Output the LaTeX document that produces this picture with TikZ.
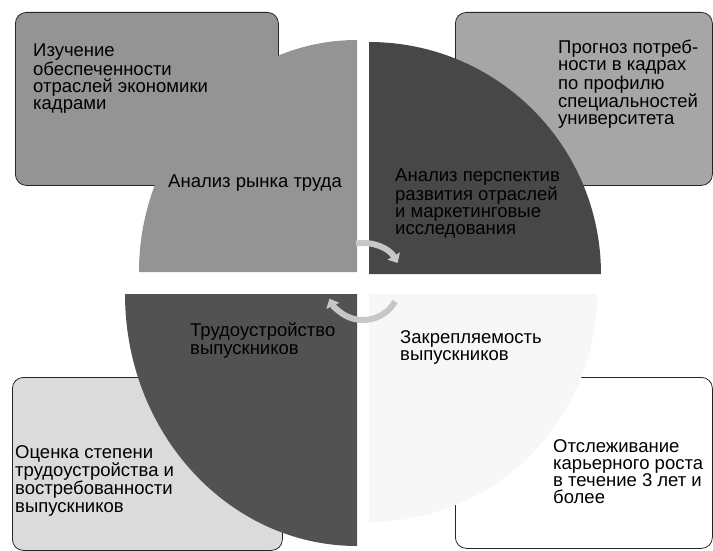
\documentclass[tikz,border=0pt]{standalone}
\usepackage{fontspec}
\setmainfont{Liberation Sans}
\usetikzlibrary{arrows.meta}
\tikzset{box/.style={draw=black!85, thick, rounded corners=11pt, anchor=north west},
	txt/.style={align=left, inner sep=0pt, anchor=north west, font=\fontsize{18.5}{17.2}\selectfont}
}
\definecolor{qgrey}{gray}{0.58}
\definecolor{qdark}{gray}{0.28}
\definecolor{qdarker}{gray}{0.32}
\tikzstyle{cycle_arrow} = [line width=6pt, draw=black!22, -{Triangle[length=8pt, width=14pt]}]

\begin{document}
\begin{tikzpicture}[x=1pt, y=1pt]
				\useasboundingbox (0,0) rectangle (713,-551);
				% corner boxes
				\node[box, fill=black!42, minimum width=263pt, minimum height=173pt](b1) at (15,-12) {};
				\node[box, fill=black!35, minimum width=257pt, minimum height=173pt](b2) at (455,-12) {};
				\node[box, fill=black!14, minimum width=270pt, minimum height=173pt](b3) at (12,-377) {};
				\node[box, fill=white, minimum width=257pt, minimum height=171pt](b4) at (455,-377) {};
				
				% draw quadrants
				\fill[qgrey] (357,-272) -- ++(-218,0) arc[start angle=180, end angle=90, x radius=218, y radius=232] -- cycle;
				\fill[qdark] (369,-274) -- ++(0,232) arc[start angle=90, end angle=0, radius=232] -- cycle;
				\fill[black!3] (369,-294) -- ++(228,0) arc[start angle=0, end angle=-90, radius=228] -- cycle;
				\fill[qdarker] (357,-294) -- ++(0,-252) arc[start angle=270, end angle=180, x radius=232, y radius=252] -- cycle;
				
				% texts
				\node[txt] (t1) at ([shift={(18,-32)}]b1.north west) {Изучение\\обеспеченности\\отраслей экономики\\кадрами};
				\node[txt] (t2) at ([shift={(103,-28)}]b2.north west) {Прогноз потреб-\\ности в кадрах\\по профилю\\специальностей\\университета};
				\node[txt] (t3) at ([shift={(3,-68)}]b3.north west) {Оценка степени\\трудоустройства и\\востребованности\\выпускников};
				\node[txt] (t4) at ([shift={(98,-62)}]b4.north west) {Отслеживание\\карьерного роста\\в течение 3 лет и\\более};
				\node[txt] (q1) at (168,-175) {Анализ рынка труда};
				\node[txt] (q2) at (395,-169) {Анализ перспектив\\развития отраслей\\и маркетинговые\\исследования};
				\node[txt] (q3) at (190,-323) {Трудоустройство\\выпускников};
				\node[txt] (q4) at (400,-330) {Закрепляемость\\выпускников};
				
				% center arrows
				\coordinate (c) at (363,-283);
				\draw[cycle_arrow] (c) ++(100:40) arc[start angle=100, end angle=30, radius=40];
				\draw[cycle_arrow] (c) ++(-30:37) arc[start angle=-30, end angle=-155, radius=37];
			\end{tikzpicture}
\end{document}
